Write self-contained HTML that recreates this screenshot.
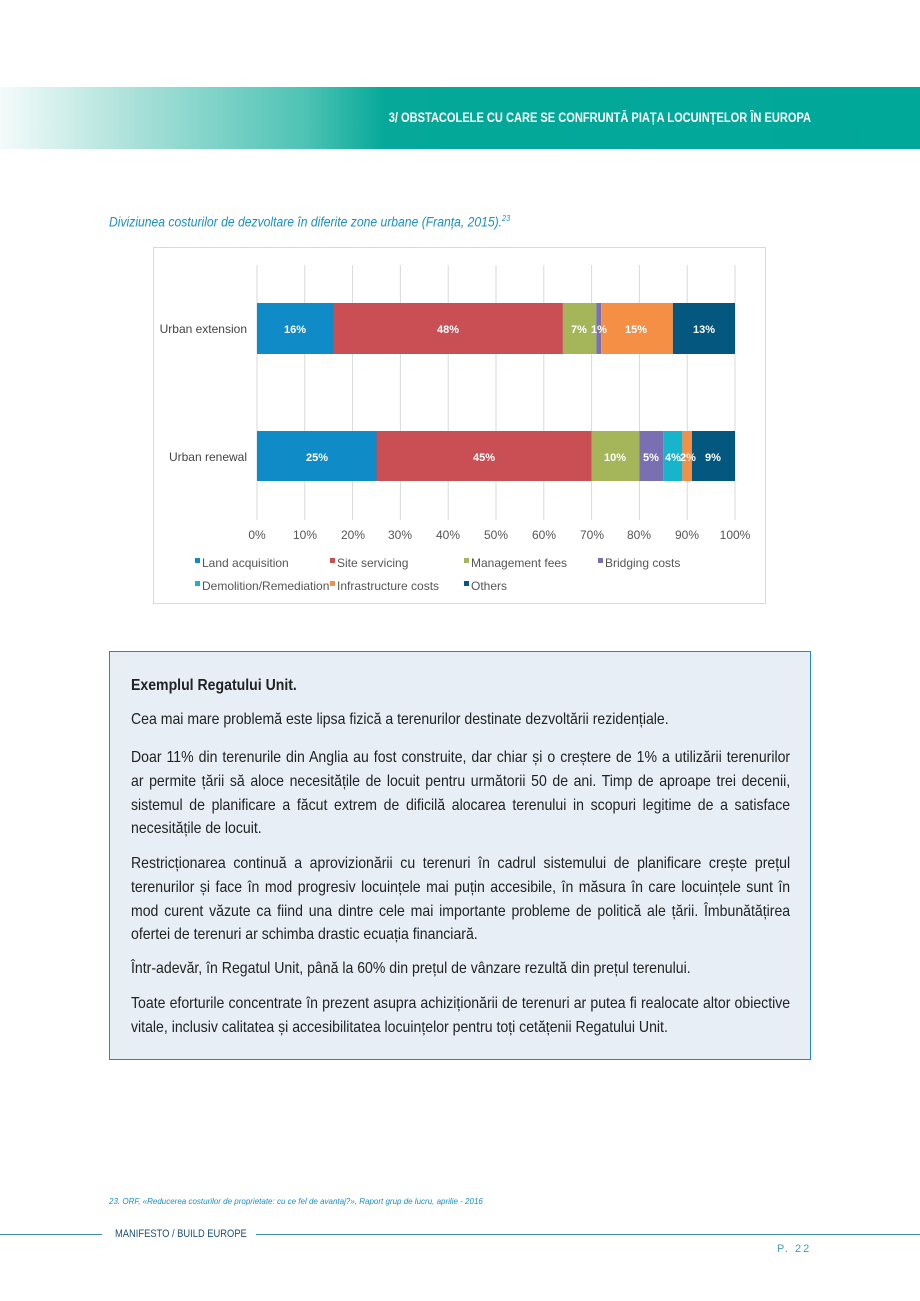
<!DOCTYPE html>
<html><head><meta charset="utf-8"><style>
body{margin:0;width:920px;height:1301px;background:#fff;position:relative;overflow:hidden;font-family:"Liberation Sans",sans-serif}
.band{position:absolute;left:0;top:87px;width:920px;height:62px;background:linear-gradient(90deg,#f4fbfa 0%,#a8e0d8 15%,#4fc3b5 33%,#05a899 42%,#00a89a 100%)}
.band span{position:absolute;right:109px;top:23px;color:#fff;font-weight:bold;font-size:13.5px;transform:scaleX(.82);transform-origin:right;white-space:nowrap}
.cap{position:absolute;left:109px;top:214px;color:#1a8fc8;font-style:italic;font-size:13.5px;transform:scaleX(.9);transform-origin:left;white-space:nowrap}
.box{position:absolute;left:109px;top:651px;width:700px;height:407px;border:1.5px solid #1e8cc4;background:#e8eef6}
.t{position:absolute;left:131px;width:749px;transform:scaleX(.88);transform-origin:left;font-size:16px;color:#222;text-align:justify;text-align-last:justify;white-space:nowrap;line-height:20px}
.t.l{text-align-last:left}
.foot{position:absolute;left:109px;top:1197px;font-size:8px;color:#1a8fc8;font-style:italic;white-space:nowrap}
.line{position:absolute;top:1234px;height:1px;background:#3d8fb0}
</style></head><body>
<div class="band"><span>3/ OBSTACOLELE CU CARE SE CONFRUNTĂ PIAȚA LOCUINȚELOR ÎN EUROPA</span></div>
<div class="cap">Diviziunea costurilor de dezvoltare în diferite zone urbane (Franța, 2015).<sup style="font-size:8px">23</sup></div>
<svg style="position:absolute;left:0;top:0" width="920" height="620" font-family="Liberation Sans, sans-serif">
<rect x="153.5" y="247.5" width="612" height="356" fill="#fff" stroke="#d9d9d9"/>
<g stroke="#d9d9d9">
<line x1="257" y1="265" x2="257" y2="520"/><line x1="304.8" y1="265" x2="304.8" y2="520"/><line x1="352.6" y1="265" x2="352.6" y2="520"/><line x1="400.4" y1="265" x2="400.4" y2="520"/><line x1="448.2" y1="265" x2="448.2" y2="520"/><line x1="496" y1="265" x2="496" y2="520"/><line x1="543.8" y1="265" x2="543.8" y2="520"/><line x1="591.6" y1="265" x2="591.6" y2="520"/><line x1="639.4" y1="265" x2="639.4" y2="520"/><line x1="687.2" y1="265" x2="687.2" y2="520"/><line x1="735" y1="265" x2="735" y2="520"/>
</g>
<g>
<rect x="257" y="303" width="76.5" height="51" fill="#0f8bc7"/>
<rect x="333.5" y="303" width="229.4" height="51" fill="#c94f55"/>
<rect x="562.9" y="303" width="33.5" height="51" fill="#a5b55a"/>
<rect x="596.4" y="303" width="4.8" height="51" fill="#7a6fb0"/>
<rect x="601.2" y="303" width="71.7" height="51" fill="#f58f45"/>
<rect x="672.9" y="303" width="62.1" height="51" fill="#04587f"/>
<rect x="257" y="431" width="119.5" height="50" fill="#0f8bc7"/>
<rect x="376.5" y="431" width="215.1" height="50" fill="#c94f55"/>
<rect x="591.6" y="431" width="47.8" height="50" fill="#a5b55a"/>
<rect x="639.4" y="431" width="23.9" height="50" fill="#7a6fb0"/>
<rect x="663.3" y="431" width="19.1" height="50" fill="#17b4cc"/>
<rect x="682.4" y="431" width="9.6" height="50" fill="#f58f45"/>
<rect x="692" y="431" width="43" height="50" fill="#04587f"/>
</g>
<g fill="#fff" font-size="11" font-weight="bold" text-anchor="middle">
<text x="295" y="333">16%</text><text x="448" y="333">48%</text><text x="579" y="333">7%</text><text x="599" y="333">1%</text><text x="636" y="333">15%</text><text x="704" y="333">13%</text>
<text x="317" y="461">25%</text><text x="484" y="461">45%</text><text x="615" y="461">10%</text><text x="651" y="461">5%</text><text x="673" y="461">4%</text><text x="688" y="461">2%</text><text x="713" y="461">9%</text>
</g>
<g fill="#444" font-size="12" text-anchor="end"><text x="247" y="333">Urban extension</text><text x="247" y="461">Urban renewal</text></g>
<g fill="#555" font-size="12" text-anchor="middle">
<text x="257" y="539">0%</text><text x="305" y="539">10%</text><text x="353" y="539">20%</text><text x="400" y="539">30%</text><text x="448" y="539">40%</text><text x="496" y="539">50%</text><text x="544" y="539">60%</text><text x="592" y="539">70%</text><text x="639" y="539">80%</text><text x="687" y="539">90%</text><text x="735" y="539">100%</text>
</g>
<g font-size="12" fill="#555">
<rect x="195" y="558" width="5" height="5" fill="#0f8bc7"/><text x="202" y="567">Land acquisition</text>
<rect x="330" y="558" width="5" height="5" fill="#c94f55"/><text x="337" y="567">Site servicing</text>
<rect x="464" y="558" width="5" height="5" fill="#a5b55a"/><text x="471" y="567">Management fees</text>
<rect x="598" y="558" width="5" height="5" fill="#7a6fb0"/><text x="605" y="567">Bridging costs</text>
<rect x="195" y="581" width="5" height="5" fill="#17b4cc"/><text x="202" y="590">Demolition/Remediation</text>
<rect x="330" y="581" width="5" height="5" fill="#f58f45"/><text x="337" y="590">Infrastructure costs</text>
<rect x="464" y="581" width="5" height="5" fill="#04587f"/><text x="471" y="590">Others</text>
</g>
</svg>
<div class="box"></div>
<div class="t l" style="top:676px;font-weight:bold">Exemplul Regatului Unit.</div>
<div class="t l" style="top:710px">Cea mai mare problemă este lipsa fizică a terenurilor destinate dezvoltării rezidențiale.</div>
<div class="t" style="top:748px">Doar 11% din terenurile din Anglia au fost construite, dar chiar și o creștere de 1% a utilizării terenurilor</div>
<div class="t" style="top:772px">ar permite țării să aloce necesitățile de locuit pentru următorii 50 de ani. Timp de aproape trei decenii,</div>
<div class="t" style="top:796px">sistemul de planificare a făcut extrem de dificilă alocarea terenului in scopuri legitime de a satisface</div>
<div class="t l" style="top:819px">necesitățile de locuit.</div>
<div class="t" style="top:854px">Restricționarea continuă a aprovizionării cu terenuri în cadrul sistemului de planificare crește prețul</div>
<div class="t" style="top:878px">terenurilor și face în mod progresiv locuințele mai puțin accesibile, în măsura în care locuințele sunt în</div>
<div class="t" style="top:902px">mod curent văzute ca fiind una dintre cele mai importante probleme de politică ale țării. Îmbunătățirea</div>
<div class="t l" style="top:925px">ofertei de terenuri ar schimba drastic ecuația financiară.</div>
<div class="t l" style="top:959px">Într-adevăr, în Regatul Unit, până la 60% din prețul de vânzare rezultă din prețul terenului.</div>
<div class="t" style="top:994px">Toate eforturile concentrate în prezent asupra achiziționării de terenuri ar putea fi realocate altor obiective</div>
<div class="t l" style="top:1018px">vitale, inclusiv calitatea și accesibilitatea locuințelor pentru toți cetățenii Regatului Unit.</div>
<div class="foot">23. ORF, «Reducerea costurilor de proprietate: cu ce fel de avantaj?», Raport grup de lucru, aprilie - 2016</div>
<div class="line" style="left:0;width:102px"></div>
<div class="line" style="left:256px;width:664px"></div>
<div style="position:absolute;left:115px;top:1228px;font-size:11px;color:#1c4f7a;transform:scaleX(.85);transform-origin:left;white-space:nowrap">MANIFESTO / BUILD EUROPE</div>
<div style="position:absolute;left:777px;top:1243px;font-size:11px;color:#4a9ab8;letter-spacing:2px">P. 22</div>
</body></html>
